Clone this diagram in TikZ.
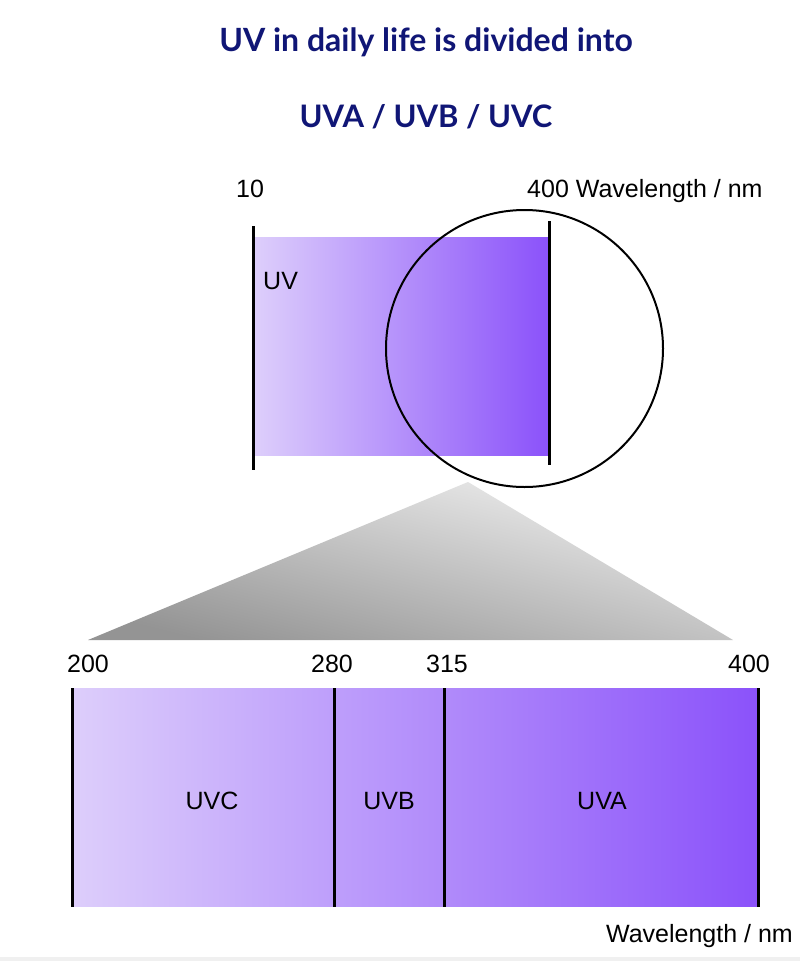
\documentclass[tikz,border=0pt]{standalone}
\usepackage{fontspec}
\setmainfont{Liberation Sans}
\newfontfamily\titlefont{Lato}
\definecolor{navy}{RGB}{16,22,118}
\definecolor{uvlight}{RGB}{221,206,251}
\definecolor{uvdark}{RGB}{139,82,250}
\definecolor{trilight}{RGB}{240,240,240}
\definecolor{tridark}{RGB}{148,148,148}
\begin{document}
\begin{tikzpicture}[x=1pt,y=-1pt,
  titletext/.style={font=\titlefont\bfseries\fontsize{32}{38}\selectfont, text=navy, inner sep=0pt, anchor=base},
  lbl/.style={font=\fontsize{25}{30}\selectfont, inner sep=0pt, anchor=base},
  tick/.style={line width=3pt, black},
  ring/.style={line width=2pt, black}]
\useasboundingbox (0,0) rectangle (800,961);
\fill[white] (0,0) rectangle (800,961);
\fill[black!6] (0,957) rectangle (800,961);
% title
\node[titletext] (t1) at (426,51) {UV in daily life is divided into};
\node[titletext, font=\titlefont\bfseries\fontsize{31}{37}\selectfont] (t2) at (426,127) {UVA / UVB / UVC};
% top band
\shade[left color=uvlight, right color=uvdark] (255,237) rectangle (548,455);
\coordinate (la) at (253,226); \coordinate (lb) at (253,470);
\coordinate (ra) at (549,221); \coordinate (rb) at (549,465);
\draw[tick] (la) -- (lb);
\draw[tick] (ra) -- (rb);
\node[lbl, anchor=base west] (n10) at (236,197) {10};
\node[lbl, anchor=base west] (n400) at (527,197) {400 Wavelength / nm};
\node[lbl, anchor=base west] (uv) at (263,289) {UV};
% circle
\node[ring, draw, circle, minimum size=277pt, inner sep=0pt] (zoomc) at (524.5,348.5) {};
% triangle
\coordinate (apex) at (468,482);
\coordinate (bl) at (88,640);
\coordinate (br) at (733,640);
\shade[top color=trilight, bottom color=tridark, shading angle=-14] (apex) -- (br) -- (bl) -- cycle;
% bottom band
\shade[left color=uvlight, right color=uvdark] (72,688) rectangle (757,906);
\foreach \x/\n in {72/a,334/b,444/c,758/d}{
  \coordinate (top\n) at (\x,688); \coordinate (bot\n) at (\x,907);
  \draw[tick] (top\n) -- (bot\n);
}
\node[lbl] (n200) at (88,672) {200};
\node[lbl] (n280) at (332,672) {280};
\node[lbl] (n315) at (447,672) {315};
\node[lbl] (n400b) at (749,672) {400};
\node[lbl] (uvc) at (212,809) {UVC};
\node[lbl] (uvb) at (389,809) {UVB};
\node[lbl] (uva) at (602,809) {UVA};
\node[lbl, anchor=base east] (wl) at (793,942) {Wavelength / nm};
\end{tikzpicture}
\end{document}
